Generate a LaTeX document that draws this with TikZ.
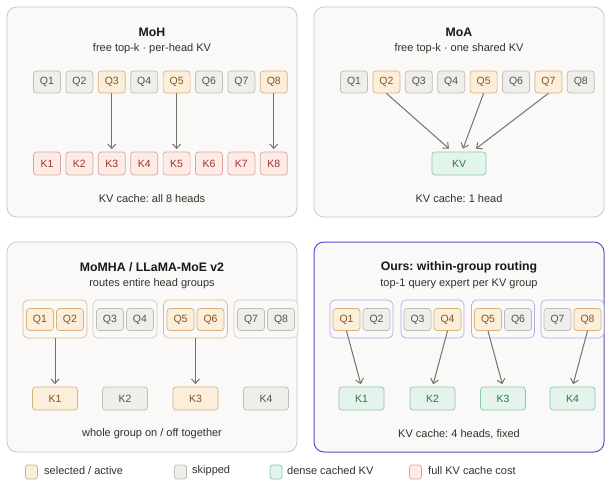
\documentclass[tikz,border=0pt]{standalone}
\usepackage{fontspec}
\setmainfont{Liberation Sans}
\usetikzlibrary{arrows.meta,calc}
\frenchspacing
\definecolor{selfill}{HTML}{FBEEDB}
\definecolor{seldraw}{HTML}{D8B27E}
\definecolor{seltext}{HTML}{85561C}
\definecolor{skfill}{HTML}{EFEEEB}
\definecolor{skdraw}{HTML}{BFBCB6}
\definecolor{sktext}{HTML}{55534F}
\definecolor{redfill}{HTML}{FCEBE7}
\definecolor{reddraw}{HTML}{DDA59B}
\definecolor{redtext}{HTML}{9A3628}
\definecolor{grfill}{HTML}{E4F4EC}
\definecolor{grdraw}{HTML}{8CC7AC}
\definecolor{grtext}{HTML}{2B7554}
\definecolor{panfill}{HTML}{FAF9F7}
\definecolor{pandraw}{HTML}{CAC8C3}
\definecolor{purp}{HTML}{5A50C8}
\definecolor{purplite}{HTML}{B3ACEC}
\definecolor{grpor}{HTML}{DDB98C}
\definecolor{grpgr}{HTML}{CFCDC8}
\definecolor{arrc}{HTML}{75726E}
\definecolor{captc}{HTML}{33312E}
\definecolor{titc}{HTML}{1A1917}
\begin{document}
\frenchspacing
\begin{tikzpicture}[x=1pt,y=-1pt,
  panel/.style={draw=pandraw,fill=panfill,line width=0.8pt,rounded corners=10pt,minimum width=290pt,minimum height=210pt,inner sep=0pt},
  oursp/.style={panel,draw=purp,line width=1pt},
  box/.style={rounded corners=3pt,line width=0.7pt,inner sep=0pt,font=\fontsize{10.5}{12}\selectfont},
  qsel/.style={box,draw=seldraw,fill=selfill,text=seltext,minimum width=27pt,minimum height=22pt},
  qskip/.style={box,draw=skdraw,fill=skfill,text=sktext,minimum width=27pt,minimum height=22pt},
  kred/.style={box,draw=reddraw,fill=redfill,text=redtext,minimum width=27pt,minimum height=23pt},
  kgr/.style={box,draw=grdraw,fill=grfill,text=grtext,minimum width=45pt,minimum height=23pt},
  ksel/.style={box,draw=seldraw,fill=selfill,text=seltext,minimum width=45pt,minimum height=23pt},
  kskip/.style={box,draw=skdraw,fill=skfill,text=sktext,minimum width=45pt,minimum height=23pt},
  grpsel/.style={draw=grpor,fill=panfill,rounded corners=5pt,line width=0.7pt,minimum width=64pt,minimum height=38pt,inner sep=0pt},
  grpskip/.style={grpsel,draw=grpgr},
  grpours/.style={grpsel,draw=purplite,minimum width=63pt},
  ttl/.style={font=\bfseries\fontsize{12.3}{14}\selectfont,text=titc},
  sub/.style={font=\fontsize{11}{13}\selectfont,text=captc},
  captxt/.style={font=\fontsize{11}{13}\selectfont,text=captc},
  arr/.style={draw=arrc,line width=1pt,-{Straight Barb[length=4.5pt,width=8pt]}},
  swatch/.style={rounded corners=2.5pt,line width=0.7pt,minimum width=12pt,minimum height=14pt,inner sep=0pt},
  legt/.style={anchor=west,font=\fontsize{11}{13}\selectfont,text=captc,inner sep=0pt}
]
\useasboundingbox (0,0) rectangle (612,484);
\fill[white] (0,0) rectangle (612,484);

% ---------- panels
\node[panel] (p1) at (152,112) {};
\node[panel] (p2) at (459,112) {};
\node[panel] (p3) at (152,347) {};
\node[oursp] (p4) at (459,347) {};

% ---------- Panel 1: MoH
\node[ttl] (t1) at (152,32) {MoH};
\node[sub] (s1) at (152,49) {free top-k · per-head KV};
\foreach \i/\s in {1/qskip,2/qskip,3/qsel,4/qskip,5/qsel,6/qskip,7/qskip,8/qsel}
  \node[\s] (a-q\i) at ({47+32.4*(\i-1)},82) {Q\i};
\foreach \i in {1,...,8}
  \node[kred] (a-k\i) at ({47+32.4*(\i-1)},163.5) {K\i};
\foreach \i in {3,5,8}
  \draw[arr,shorten >=2.5pt] (a-q\i) -- (a-k\i);
\node[captxt] (c1) at (152,199) {KV cache: all 8 heads};

% ---------- Panel 2: MoA
\node[ttl] (t2) at (459,32) {MoA};
\node[sub] (s2) at (459,49) {free top-k · one shared KV};
\foreach \i/\s in {1/qskip,2/qsel,3/qskip,4/qskip,5/qsel,6/qskip,7/qsel,8/qskip}
  \node[\s] (b-q\i) at ({354+32.4*(\i-1)},82) {Q\i};
\node[kgr,minimum width=54pt] (b-kv) at (459,163.5) {KV};
\draw[arr] (b-q2.south) -- ([xshift=-10pt,yshift=3pt]b-kv.north);
\draw[arr] (b-q5.south) -- ([xshift=4pt,yshift=3pt]b-kv.north);
\draw[arr] (b-q7.south) -- ([xshift=17pt,yshift=3pt]b-kv.north);
\node[captxt] (c2) at (459,199) {KV cache: 1 head};

% ---------- Panel 3: MoMHA
\node[ttl] (t3) at (152,267) {MoMHA / LLaMA-MoE v2};
\node[sub] (s3) at (152,284) {routes entire head groups};
\foreach \g/\gs/\x/\sa/\sb/\ks in {1/grpsel/55/qsel/qsel/ksel,2/grpskip/125/qskip/qskip/kskip,3/grpsel/195.5/qsel/qsel/ksel,4/grpskip/266/qskip/qskip/kskip}{
  \node[\gs] (c-g\g) at (\x,319) {};
  \pgfmathtruncatemacro{\qa}{2*\g-1}
  \pgfmathtruncatemacro{\qb}{2*\g}
  \node[\sa] (c-q\qa) at (\x-15,319.5) {Q\qa};
  \node[\sb] (c-q\qb) at (\x+15,319.5) {Q\qb};
  \node[\ks] (c-k\g) at (\x,398.5) {K\g};
}
\draw[arr,shorten >=2.5pt] (c-g1) -- (c-k1);
\draw[arr,shorten >=2.5pt] (c-g3) -- (c-k3);
\node[captxt] (c3) at (152,434) {whole group on / off together};

% ---------- Panel 4: Ours
\node[ttl] (t4) at (459,267) {Ours: within-group routing};
\node[sub] (s4) at (459,284) {top-1 query expert per KV group};
\foreach \g/\x/\sa/\sb in {1/361.5/qsel/qskip,2/432.5/qskip/qsel,3/503/qsel/qskip,4/572.5/qskip/qsel}{
  \node[grpours] (d-g\g) at (\x,319) {};
  \pgfmathtruncatemacro{\qa}{2*\g-1}
  \pgfmathtruncatemacro{\qb}{2*\g}
  \node[\sa] (d-q\qa) at (\x-15,319.5) {Q\qa};
  \node[\sb] (d-q\qb) at (\x+15,319.5) {Q\qb};
  \node[kgr] (d-k\g) at (\x,398.5) {K\g};
}
\draw[arr,shorten >=2.5pt] (d-q1.south) -- (d-k1.north);
\draw[arr,shorten >=2.5pt] (d-q4.south) -- (d-k2.north);
\draw[arr,shorten >=2.5pt] (d-q5.south) -- (d-k3.north);
\draw[arr,shorten >=2.5pt] (d-q8.south) -- (d-k4.north);
\node[captxt] (c4) at (459,434) {KV cache: 4 heads, fixed};

% ---------- Legend
\node[swatch,draw=seldraw,fill=selfill] (l1) at (31.5,472) {};
\node[legt] (lt1) at (44,471) {selected / active};
\node[swatch,draw=skdraw,fill=skfill] (l2) at (180.5,472) {};
\node[legt] (lt2) at (192,471) {skipped};
\node[swatch,draw=grdraw,fill=grfill] (l3) at (276,472) {};
\node[legt] (lt3) at (287,471) {dense cached KV};
\node[swatch,draw=reddraw,fill=redfill] (l4) at (415.5,472) {};
\node[legt] (lt4) at (428,471) {full KV cache cost};
\end{tikzpicture}
\end{document}
